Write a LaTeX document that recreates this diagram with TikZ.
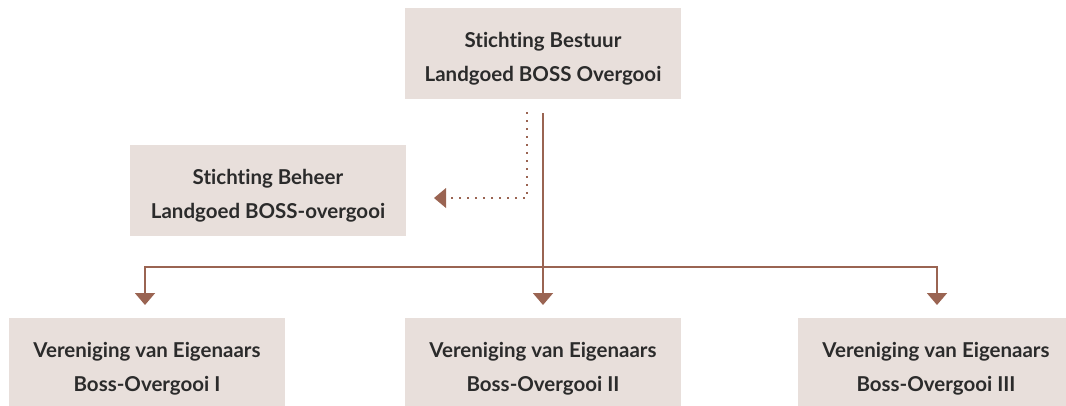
\documentclass[tikz,border=0pt]{standalone}
\usepackage{fontspec}
\setmainfont[Ligatures={NoCommon,NoRare,NoDiscretionary}]{Lato}
\usetikzlibrary{arrows.meta}
\definecolor{boxfill}{HTML}{E8DFDB}
\definecolor{linec}{HTML}{9A6452}
\definecolor{txt}{HTML}{2B2B2B}
\begin{document}
\begin{tikzpicture}[x=1pt,y=-1pt,
  orgbox/.style={fill=boxfill,draw=none,minimum width=276pt,minimum height=91pt,inner sep=0pt,
    label={[boxtext,yshift=-5pt]center:#1}},
  boxtext/.style={align=center,text=txt,inner sep=0pt,font=\fontsize{20.5}{34}\selectfont\bfseries},
  conn/.style={draw=linec,line width=1.8pt},
  tip/.style={-{Triangle[length=12pt,width=20pt]}},
  dotconn/.style={draw=linec,line width=1.8pt,dash pattern=on 2pt off 6pt}]
\useasboundingbox (0,0) rectangle (1066,405);
\node[orgbox={Stichting Bestuur\\Landgoed BOSS Overgooi}] (top) at (543,53.5) {};
\node[orgbox={Stichting Beheer\\Landgoed BOSS-overgooi}] (beheer) at (268,190.5) {};
\node[orgbox={Vereniging van Eigenaars\\Boss-Overgooi I}] (v1) at (147,363.5) {};
\node[orgbox={Vereniging van Eigenaars\\Boss-Overgooi II}] (v2) at (543,363.5) {};
\node[orgbox={Vereniging van Eigenaars\\Boss-Overgooi III}] (v3) at (936,363.5) {};
\coordinate (s) at (543,113);
\coordinate (h) at (543,267);
\coordinate (ds) at (527,112);
\coordinate (dc) at (527,198);
\coordinate (de) at (434,198);
\draw[conn] (s) -- (h);
\draw[conn,tip] (h) -- (543,305);
\draw[conn,tip] (h) -| (145,305);
\draw[conn,tip] (h) -| (937,305);
\draw[dotconn] (ds) -- (dc) -- (446,198);
\fill[linec] (de) -- (446,188) -- (446,208) -- cycle;
\end{tikzpicture}
\end{document}
